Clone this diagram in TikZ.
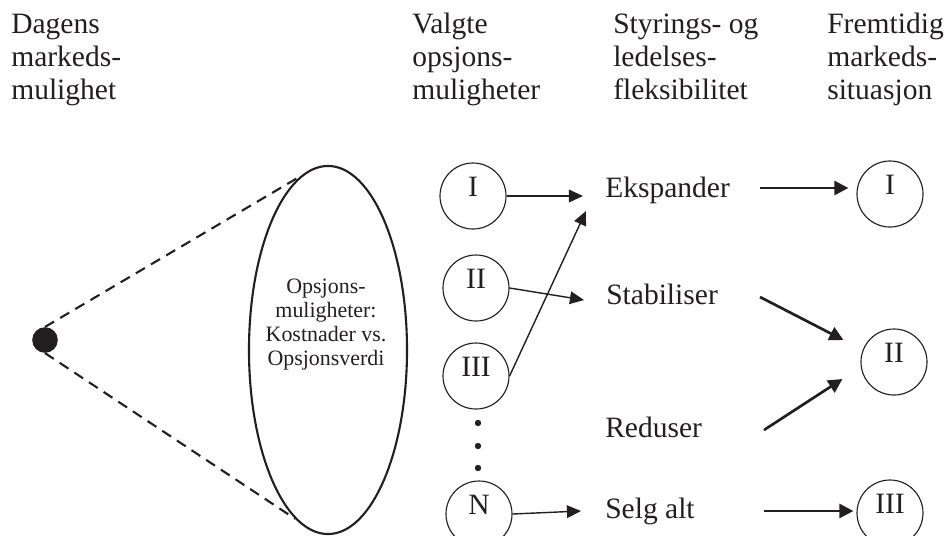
\documentclass[tikz,border=0pt]{standalone}
\usepackage{fontspec}
\setmainfont{Liberation Serif}
\usepackage{tikz}
\usetikzlibrary{calc, arrows.meta, shapes.geometric}
\definecolor{trykk}{HTML}{231F20}

\begin{document}
\begin{tikzpicture}[x=0.025cm, y=-0.025cm, every node/.style={text=trykk},
  tekst/.style={font=\fontsize{21}{23.4}\selectfont, inner sep=0},
  overskrift/.style={tekst, anchor=base west, align=left},
  tiltak/.style={tekst, anchor=base west},
  valg/.style={tekst, circle, draw=trykk, line width=.8pt, minimum size=1.65cm, text height=.48cm, text depth=.48cm},
  tynn/.style={-{Triangle[length=10pt,width=9pt]}, line width=1pt, trykk},
  tykk/.style={-{Triangle[length=10pt,width=10pt]}, line width=1.9pt, trykk}]
\useasboundingbox (0,0) rectangle (949,535);
\node[overskrift] (dagens) at (11,99) {Dagens\\markeds-\\mulighet};
\node[overskrift] (valgte) at (412,99) {Valgte\\opsjons-\\muligheter};
\node[overskrift] (styring) at (613,99) {Styrings- og\\ledelses-\\fleksibilitet};
\node[overskrift] (fremtid) at (827,99) {Fremtidig\\markeds-\\situasjon};

\node[circle, fill=trykk, minimum size=.64cm, inner sep=0] (dag) at (45,340) {};
\node[draw=trykk, ellipse, line width=1.5pt, minimum width=3.95cm, minimum height=9.2cm, inner sep=0] (opt) at (328,350) {};
\node[font=\fontsize{15.6}{17}\selectfont, align=center, anchor=base, inner sep=0] (opttekst) at (326,365) {Opsjons-\\muligheter:\\Kostnader vs.\\Opsjonsverdi};
\draw[trykk, line width=1.5pt, dash pattern=on 7.5pt off 5pt] (dag.north) -- (opt.99);
\draw[trykk, line width=1.5pt, dash pattern=on 7.5pt off 5pt] (dag.south) -- (opt.259);

\node[valg] (oI) at (473,196) {I};
\node[valg] (oII) at (476,288) {II};
\node[valg] (oIII) at (476,376) {III};
\node[valg] (oN) at (479,514) {N};
\foreach \y in {423,446,468} \fill[trykk] (478,\y) circle (.08cm);

\node[tiltak] (eksp) at (605,197) {Ekspander};
\node[tiltak] (stab) at (606,304) {Stabiliser};
\node[tiltak] (red) at (605,437) {Reduser};
\node[tiltak] (selg) at (605,518) {Selg alt};

\node[valg] (mI) at (890,194) {I};
\node[valg] (mII) at (894,362) {II};
\node[valg] (mIII) at (890,513) {III};

\draw[tynn] (oI.east) -- ($(eksp.base west)+(-22,-1)$);
\draw[tynn] (oII.east) -- ($(stab.base west)+(-22,-4)$);
\draw[tynn] (oIII.east) -- ($(eksp.base west)+(-19,14)$);
\draw[tynn] (oN.east) -- ($(selg.base west)+(-24,-7)$);
\draw[tykk] ($(eksp.base west)+(155,-9)$) -- ($(mI.west)+(-8,-6)$);
\draw[tykk] ($(stab.base west)+(154,-7)$) -- ($(mII.west)+(-17,-22)$);
\draw[tykk] ($(red.base west)+(159,-7)$) -- ($(mII.west)+(-18,17)$);
\draw[tykk] ($(selg.base west)+(159,-7)$) -- ($(mIII.west)+(-3,-2)$);
\end{tikzpicture}
\end{document}
